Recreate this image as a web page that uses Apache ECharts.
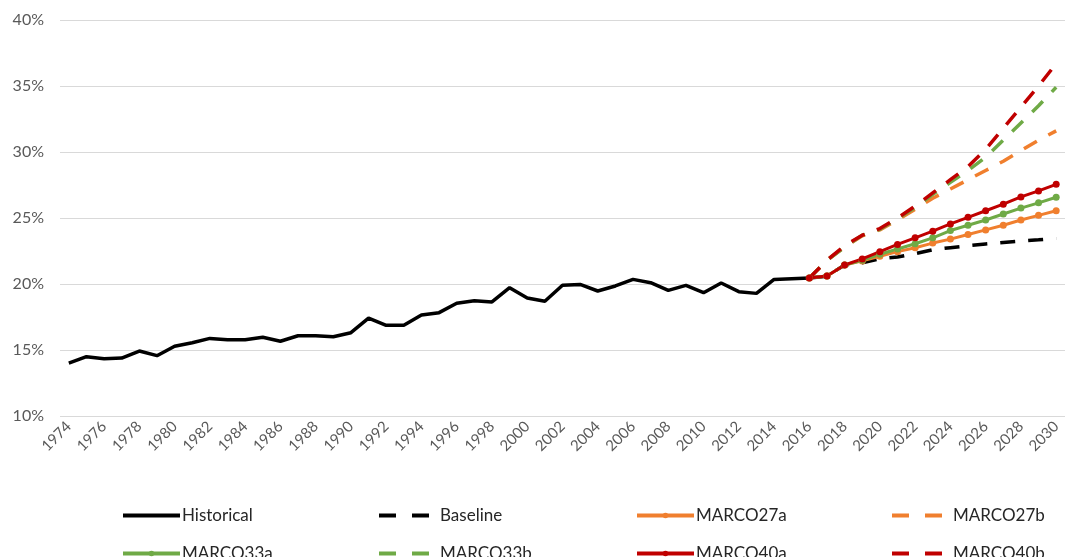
<!DOCTYPE html>
<html><head><meta charset="utf-8">
<script src="https://cdn.jsdelivr.net/npm/echarts@6/dist/echarts.min.js"></script>
<style>html,body{margin:0;padding:0;background:#fff}#c{width:1065px;height:557px}</style>
</head><body><div id="c"></div>
<script>
const categories = ['1974','1975','1976','1977','1978','1979','1980','1981','1982','1983','1984','1985','1986','1987','1988','1989','1990','1991','1992','1993','1994','1995','1996','1997','1998','1999','2000','2001','2002','2003','2004','2005','2006','2007','2008','2009','2010','2011','2012','2013','2014','2015','2016','2017','2018','2019','2020','2021','2022','2023','2024','2025','2026','2027','2028','2029','2030'];
// Historical 1974-2016 (%)
const historical = [14.0,14.49,14.34,14.39,14.92,14.57,15.28,15.55,15.88,15.78,15.78,15.96,15.66,16.08,16.08,16.0,16.31,17.42,16.87,16.87,17.65,17.83,18.54,18.73,18.64,19.72,18.94,18.69,19.9,19.97,19.47,19.85,20.35,20.1,19.52,19.9,19.34,20.08,19.42,19.29,20.35,20.4,20.45];
// Projections 2016-2030 (%)
const baseline = [20.45,20.6,21.44,21.6,21.9,22.05,22.3,22.6,22.75,22.9,23.03,23.15,23.25,23.35,23.46];
const marco27a = [20.45,20.6,21.44,21.75,22.1,22.45,22.75,23.1,23.4,23.75,24.1,24.45,24.85,25.2,25.55];
const marco27b = [20.45,21.8,22.8,23.65,24.1,24.85,25.65,26.5,27.2,27.9,28.6,29.3,30.1,30.9,31.6];
const marco33a = [20.45,20.6,21.44,21.8,22.25,22.65,23.05,23.5,24.05,24.45,24.85,25.3,25.75,26.15,26.57];
const marco33b = [20.45,21.8,22.8,23.7,24.15,24.95,25.8,26.8,27.7,28.6,29.6,30.9,32.2,33.5,34.9];
const marco40a = [20.45,20.6,21.44,21.9,22.45,23.0,23.5,24.0,24.55,25.05,25.55,26.05,26.6,27.05,27.55];
const marco40b = [20.45,21.8,22.9,23.7,24.2,25.0,25.9,26.9,27.9,28.9,30.2,31.8,33.4,35.0,36.7];
const yTicks = {min: 10, max: 40, interval: 5};

const FONT = 'Lato, "Open Sans", sans-serif';
const projStart = categories.indexOf('2016');
function padHist(arr){ const out = arr.slice(); while (out.length < categories.length) out.push(null); return out; }
function padProj(arr){ const out = []; for (let i=0;i<projStart;i++) out.push(null); return out.concat(arr); }

const BLACK = '#000000', ORANGE = '#F07F2E', GREEN = '#6FAA46', RED = '#C00000';
const DASH = [15, 13];

function solidSeries(name, data, color){
  return {name, type:'line', data: padProj(data), symbol:'circle', symbolSize:7, showAllSymbol:true,
    lineStyle:{color, width:3}, itemStyle:{color}, emphasis:{disabled:true}, animation:false};
}
function dashSeries(name, data, color){
  return {name, type:'line', data: padProj(data), symbol:'none', showSymbol:false,
    lineStyle:{color, width:3.5, type:DASH}, itemStyle:{color}, emphasis:{disabled:true}, animation:false};
}

const series = [
  {name:'Historical', type:'line', data: padHist(historical), symbol:'none', showSymbol:false,
   lineStyle:{color:BLACK, width:3.5}, itemStyle:{color:BLACK}, emphasis:{disabled:true}, animation:false},
  dashSeries('Baseline', baseline, BLACK),
  solidSeries('MARCO27a', marco27a, ORANGE),
  dashSeries('MARCO27b', marco27b, ORANGE),
  solidSeries('MARCO33a', marco33a, GREEN),
  dashSeries('MARCO33b', marco33b, GREEN),
  solidSeries('MARCO40a', marco40a, RED),
  dashSeries('MARCO40b', marco40b, RED)
];

const legendLayout = [
  ['Historical', 121, 507, 'plain'], ['Baseline', 377, 507, 'dash'], ['MARCO27a', 635, 507, 'marker'], ['MARCO27b', 890, 507, 'dash'],
  ['MARCO33a', 121, 545, 'marker'], ['MARCO33b', 377, 545, 'dash'], ['MARCO40a', 635, 545, 'marker'], ['MARCO40b', 890, 545, 'dash']
];
const legends = legendLayout.map(([name, left, top, kind]) => ({
  data:[name], left, top, orient:'horizontal', selectedMode:false, padding:0,
  itemWidth: kind === 'dash' ? 56 : 57, itemHeight: 7,
  lineStyle: kind === 'dash' ? {type:[17,16], width:4} : {width:4},
  itemStyle: kind === 'marker' ? {} : {opacity:0},
  textStyle:{fontFamily:FONT, fontSize:17, color:'#262626', padding:[0,0,0, kind === 'dash' ? 0 : -3]}
}));

const chart = echarts.init(document.getElementById('c'), null, {renderer:'canvas'});
chart.setOption({
  backgroundColor:'#ffffff',
  animation:false,
  grid:{left:60, top:20, width:1009, height:396, containLabel:false},
  legend: legends,
  xAxis:{type:'category', data:categories, boundaryGap:true,
    axisLine:{show:false}, axisTick:{show:false},
    axisLabel:{interval:1, rotate:45, fontFamily:FONT, fontSize:15, color:'#595959', margin:8}},
  yAxis:{type:'value', min:yTicks.min, max:yTicks.max, interval:yTicks.interval,
    axisLine:{show:false}, axisTick:{show:false},
    axisLabel:{formatter:'{value}%', fontFamily:FONT, fontSize:16, color:'#595959', margin:16},
    splitLine:{lineStyle:{color:'#d9d9d9', width:1.2}}},
  series
});
</script></body></html>
